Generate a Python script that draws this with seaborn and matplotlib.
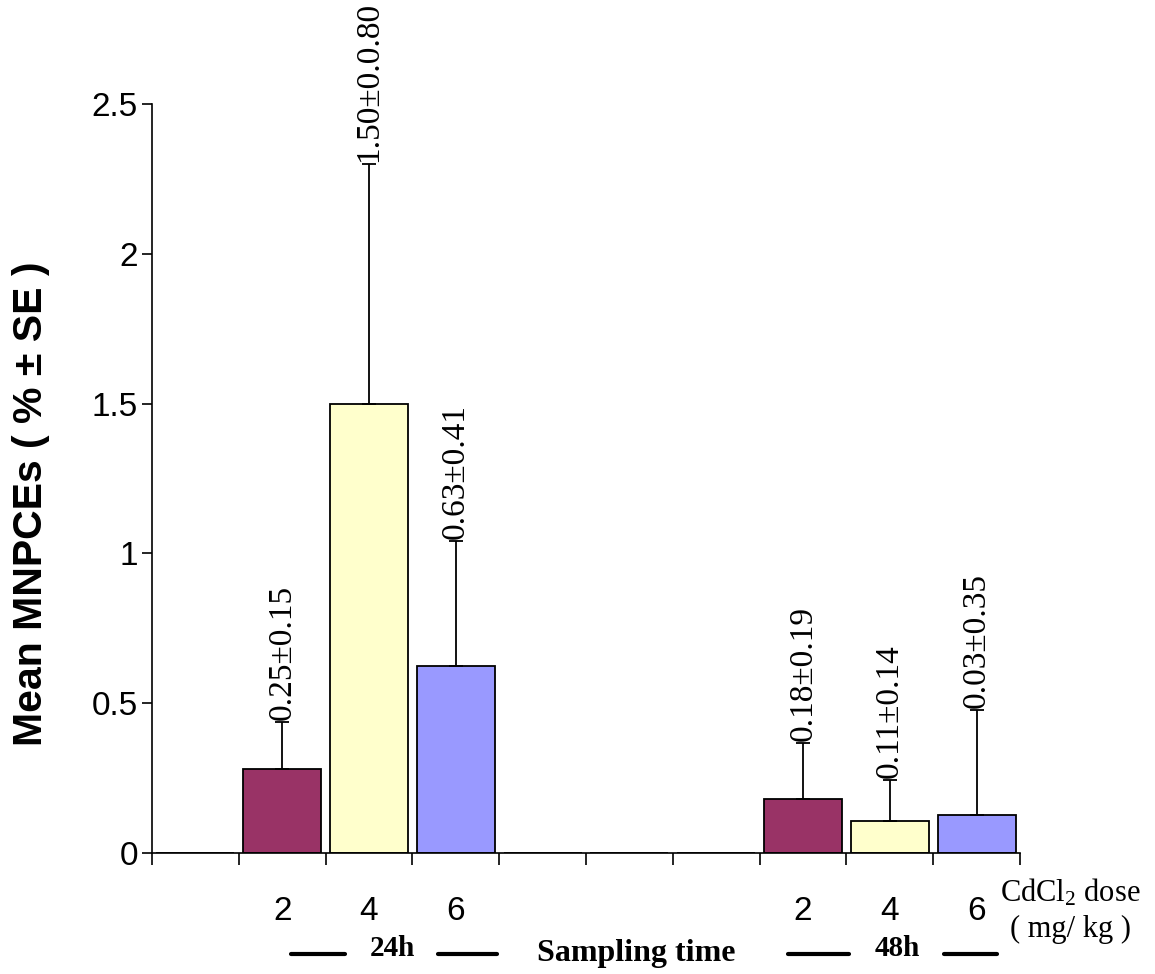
import pandas as pd
import numpy as np
import matplotlib
matplotlib.use('Agg')
import matplotlib.pyplot as plt
import seaborn as sns
from matplotlib.lines import Line2D

# data
slots = ['s0', 's1', 's2', 's3', 's4', 's5', 's6', 's7', 's8', 's9']
dose_labels = ['', '2', '4', '6', '', '', '', '2', '4', '6']
means = [0, 0.28, 1.50, 0.625, 0, 0, 0, 0.18, 0.107, 0.126]
errs = [0, 0.157, 0.80, 0.415, 0, 0, 0, 0.187, 0.136, 0.351]
bar_text = ['', '0.25±0.15', '1.50±0.0.80', '0.63±0.41', '', '', '',
            '0.18±0.19', '0.11±0.14', '0.03±0.35']
bar_colors = ['white', '#993366', '#FFFFCC', '#9999FF', 'white', 'white', 'white',
              '#993366', '#FFFFCC', '#9999FF']

df = pd.DataFrame({'slot': slots, 'mean': means, 'se': errs})

sns.set_style('ticks', rc={'text.color': 'black', 'axes.labelcolor': 'black',
                           'xtick.color': 'black', 'ytick.color': 'black',
                           'axes.edgecolor': 'black'})
plt.rcParams['font.family'] = ['Liberation Sans', 'DejaVu Sans']
plt.rcParams['mathtext.default'] = 'regular'

W, H = 1155, 974
fig = plt.figure(figsize=(W / 100, H / 100), dpi=100)
ax = fig.add_axes([152 / W, 1 - 853 / H, 868 / W, 749 / H])

sns.barplot(data=df, x='slot', y='mean', hue='slot', order=slots,
            palette=dict(zip(slots, bar_colors)), legend=False, saturation=1,
            width=0.9, edgecolor='black', linewidth=1.3, errorbar=None, ax=ax)

# upper error bars only
idx = [i for i, e in enumerate(errs) if e > 0]
m = np.array(means)[idx]
e = np.array(errs)[idx]
ax.errorbar(idx, m, yerr=[np.zeros(len(idx)), e], fmt='none', ecolor='black',
            elinewidth=1.3, capsize=5, capthick=1.3)

for i in idx:
    ax.text(i, means[i] + errs[i] + 0.008, bar_text[i], rotation=90,
            ha='center', va='bottom', fontsize=24, family='Liberation Serif')

ax.set_xlim(-0.5, 9.5)
ax.set_ylim(0, 2.5)
ax.set_yticks([0, 0.5, 1, 1.5, 2, 2.5])
ax.set_yticklabels(['0', '0.5', '1', '1.5', '2', '2.5'], fontsize=24)
ax.tick_params(axis='y', length=7, width=1.2, pad=3)

# ticks at slot boundaries, dose labels at slot centres
ax.set_xticks(np.arange(-0.5, 10, 1))
ax.set_xticklabels([])
ax.tick_params(axis='x', which='major', length=8.5, width=1.2)
lab_pos = [i for i, d in enumerate(dose_labels) if d]
ax.set_xticks(lab_pos, minor=True)
ax.set_xticklabels([dose_labels[i] for i in lab_pos], minor=True, fontsize=24)
ax.tick_params(axis='x', which='minor', length=0, pad=31)

sns.despine(ax=ax)
for s in ['left', 'bottom']:
    ax.spines[s].set_linewidth(1.2)
ax.set_xlabel('')
ax.set_ylabel('Mean MNPCEs ( % ± SE )', fontsize=29.5, fontweight='bold')
ax.yaxis.set_label_coords(-0.118, 0.466)

# bottom annotations
def ftxt(x, y, s, **kw):
    fig.text(x / W, 1 - y / H, s, ha='center', va='center',
             family='Liberation Serif', **kw)

ftxt(392, 948, '24h', fontsize=21, fontweight='bold')
ftxt(897, 948, '48h', fontsize=21, fontweight='bold')
ftxt(636, 953, 'Sampling time', fontsize=23, fontweight='bold')
ftxt(1070, 893, 'CdCl$_2$ dose', fontsize=22)
ftxt(1070, 929, '( mg/ kg )', fontsize=22)

for x1, x2 in [(291, 345), (438, 497), (788, 849), (944, 997)]:
    fig.add_artist(Line2D([x1 / W, x2 / W], [1 - 954 / H, 1 - 954 / H],
                          color='black', lw=3))

fig.savefig('out.png', dpi=100, facecolor='white')
